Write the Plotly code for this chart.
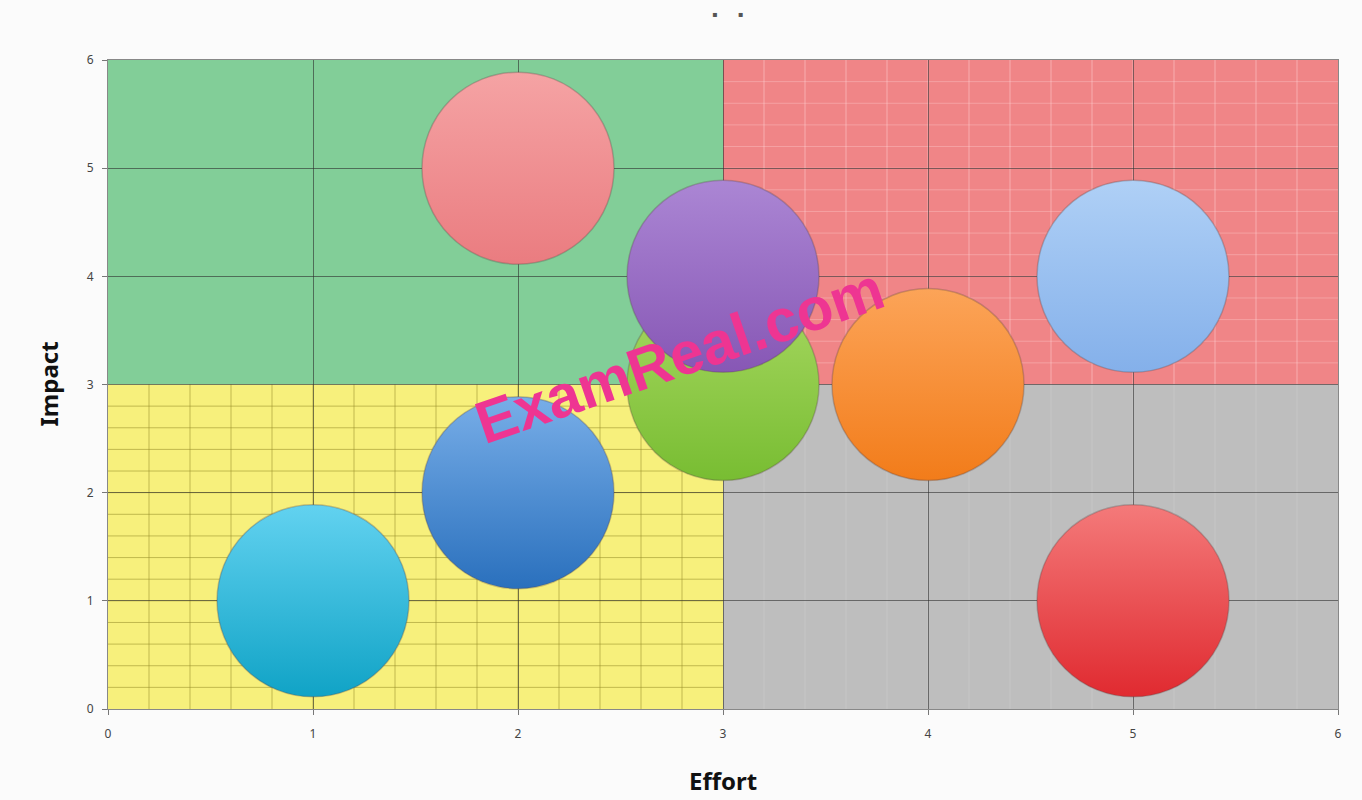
import numpy as np
import plotly.graph_objects as go

# ---- data ----
effort = [1, 2, 3, 4, 5, 2, 3, 5]
impact = [1, 2, 3, 3, 1, 5, 4, 4]
top_colors = ["#62d2f0", "#78aee8", "#a8d862", "#fca458", "#f47a7a", "#f5a3a4", "#ab86d4", "#afd0f6"]
bottom_colors = ["#10a3c6", "#2a70bd", "#78bd32", "#f27c1a", "#e02a30", "#ea7c80", "#8757b5", "#84b0ea"]

x_ticks = [0, 1, 2, 3, 4, 5, 6]
y_ticks = [0, 1, 2, 3, 4, 5, 6]
x_title = "Effort"
y_title = "Impact"

fig = go.Figure()

for xv, yv, c_top, c_bot in zip(effort, impact, top_colors, bottom_colors):
    fig.add_trace(go.Scatter(
        x=[xv], y=[yv], mode="markers",
        marker=dict(size=192, color=c_top, symbol="circle",
                    gradient=dict(type="vertical", color=c_bot),
                    line=dict(width=1.5, color="rgba(90,70,70,0.3)"),
                    opacity=1),
        hoverinfo="skip", showlegend=False,
    ))

shapes = []
# quadrant backgrounds
quads = [
    (0, 3, 3, 6, "#82ce98"),
    (3, 6, 3, 6, "#f08587"),
    (0, 3, 0, 3, "#f7f07c"),
    (3, 6, 0, 3, "#bebebe"),
]
for x0, x1, y0, y1, col in quads:
    shapes.append(dict(type="rect", xref="x", yref="y", x0=x0, x1=x1, y0=y0, y1=y1,
                       fillcolor=col, line=dict(width=0), layer="below"))

minor = np.round(np.arange(0.2, 3.0, 0.2), 2)
# yellow quadrant minor grid
for v in minor:
    shapes.append(dict(type="line", xref="x", yref="y", x0=v, x1=v, y0=0, y1=3,
                       line=dict(color="rgba(150,140,40,0.55)", width=1), layer="below"))
    shapes.append(dict(type="line", xref="x", yref="y", x0=0, x1=3, y0=v, y1=v,
                       line=dict(color="rgba(150,140,40,0.55)", width=1), layer="below"))
# red quadrant light minor grid
for v in minor:
    shapes.append(dict(type="line", xref="x", yref="y", x0=3 + v, x1=3 + v, y0=3, y1=6,
                       line=dict(color="rgba(255,215,215,0.5)", width=1), layer="below"))
    shapes.append(dict(type="line", xref="x", yref="y", x0=3, x1=6, y0=3 + v, y1=3 + v,
                       line=dict(color="rgba(255,215,215,0.35)", width=1), layer="below"))
# gray quadrant faint grid
for v in minor:
    shapes.append(dict(type="line", xref="x", yref="y", x0=3 + v, x1=3 + v, y0=0, y1=3,
                       line=dict(color="rgba(220,220,220,0.3)", width=1), layer="below"))

fig.update_layout(shapes=shapes)

axis_common = dict(
    range=[0, 6], tickvals=x_ticks, ticktext=[str(t) for t in x_ticks],
    showgrid=True, gridcolor="rgba(45,45,45,0.6)", gridwidth=1.2,
    zeroline=False, showline=True, linecolor="rgba(60,60,60,0.6)", linewidth=1.2,
    mirror=True, ticks="outside", ticklen=5, tickcolor="#777",
    tickfont=dict(family="Noto Sans", size=12, color="#444"),
    fixedrange=True, automargin=False,
)

fig.update_xaxes(**axis_common, ticklabelstandoff=8)
fig.update_yaxes(**{**axis_common, "tickvals": y_ticks, "ticktext": [str(t) for t in y_ticks]},
                 ticklabelstandoff=6)

# axis titles
fig.add_annotation(
    x=0.5, y=0, xref="paper", yref="paper", yanchor="middle", yshift=-71,
    text=f"<b>{x_title}</b>", showarrow=False,
    font=dict(family="Noto Sans", size=24, color="#111"),
)
fig.add_annotation(
    x=0, y=0.5, xref="paper", yref="paper", xanchor="center", xshift=-60,
    text=f"<b>{y_title}</b>", showarrow=False, textangle=-90,
    font=dict(family="Noto Sans", size=24, color="#111"),
)

fig.add_annotation(
    x=2.79, y=3.27, xref="x", yref="y",
    text="<b>ExamReal.com</b>", showarrow=False, textangle=-19,
    font=dict(family="Liberation Sans", size=60, color="#ee3592"),
)
fig.add_annotation(
    x=0.504, y=1.0, xref="paper", yref="paper", yanchor="middle",
    text="▪        ▪", showarrow=False, yshift=46,
    font=dict(family="DejaVu Sans", size=8, color="#555"),
)

fig.update_layout(
    width=1362, height=800,
    margin=dict(l=108, r=24, t=60, b=91, autoexpand=False),
    paper_bgcolor="#fbfbfb", plot_bgcolor="#fbfbfb",
    showlegend=False,
)

fig.write_html(
    "out.html",
    config={"displayModeBar": False},
    post_script="document.body.style.margin='0';document.body.style.overflow='hidden';"
                "document.body.style.background='#fbfbfb';",
)
